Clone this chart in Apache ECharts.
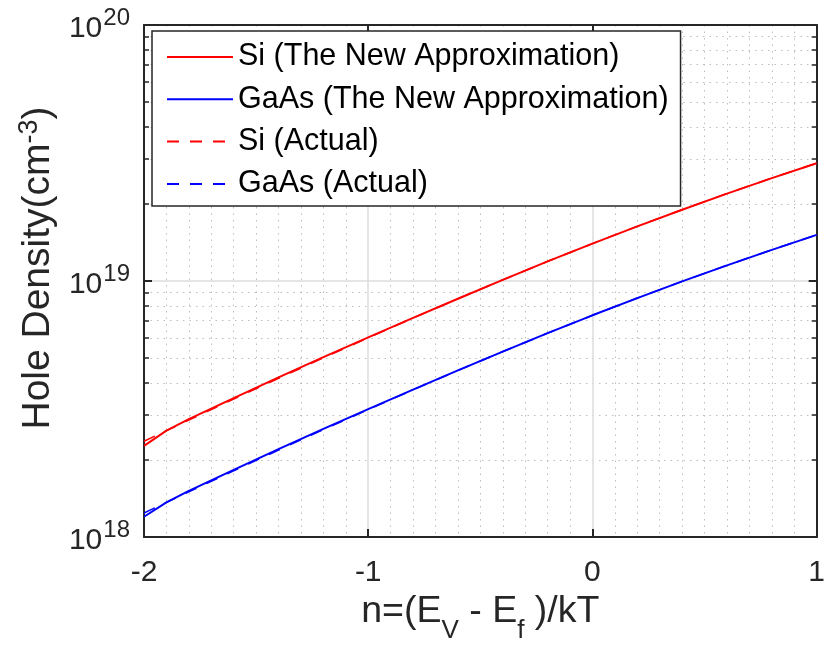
<!DOCTYPE html>
<html>
<head>
<meta charset="utf-8">
<script src="https://cdn.jsdelivr.net/npm/echarts@6/dist/echarts.min.js"></script>
<style>
  html, body { margin: 0; padding: 0; background: #ffffff; }
  #chart { width: 828px; height: 651px; }
</style>
</head>
<body>
<div id="chart"></div>
<script>
// Reduced Fermi level n = (Ev - Ef)/kT
const eta = [-2, -1.9, -1.8, -1.6, -1.4, -1.2, -1.0, -0.8, -0.6, -0.4, -0.2, 0, 0.2, 0.4, 0.6, 0.8, 1.0];

// Hole density (cm^-3), new approximation
const siApprox   = [2.27e18, 2.602e18, 2.885e18, 3.49e18, 4.20e18, 5.04e18, 6.02e18, 7.18e18, 8.527e18, 1.0105e19, 1.1926e19, 1.4001e19, 1.635e19, 1.899e19, 2.195e19, 2.523e19, 2.885e19];
const gaasApprox = [1.20e18, 1.365e18, 1.515e18, 1.83e18, 2.205e18, 2.645e18, 3.16e18, 3.765e18, 4.473e18, 5.301e18, 6.256e18, 7.345e18, 8.577e18, 9.963e18, 1.1513e19, 1.3235e19, 1.5135e19];

// Hole density (cm^-3), actual (Fermi-Dirac integral)
const siActual   = [2.366e18, 2.602e18, 2.863e18, 3.457e18, 4.165e18, 5.006e18, 5.999e18, 7.165e18, 8.527e18, 1.0105e19, 1.1926e19, 1.4001e19, 1.635e19, 1.899e19, 2.195e19, 2.523e19, 2.885e19];
const gaasActual = [1.241e18, 1.365e18, 1.502e18, 1.813e18, 2.185e18, 2.626e18, 3.147e18, 3.759e18, 4.473e18, 5.301e18, 6.256e18, 7.345e18, 8.577e18, 9.963e18, 1.1513e19, 1.3235e19, 1.5135e19];

const seriesNames = ['Si (The New Approximation)', 'GaAs (The New Approximation)', 'Si (Actual)', 'GaAs (Actual)'];

// Axis ranges
const xMin = -2, xMax = 1, xStep = 1;
const yMin = 1e18, yMax = 1e20;
// Mantissas of the logarithmic minor grid in each decade
const minorMantissas = [2, 3, 4, 5, 6, 7, 8, 9];
const decadeExponents = [18, 19];

const FONT = '"Liberation Sans", Arial, Helvetica, sans-serif';
const INK = '#262626';

const pairs = (ys) => eta.map((x, i) => [x, ys[i]]);

// Exponent positions of the minor log grid lines (used on a helper linear axis)
const minorExp = [];
decadeExponents.forEach(d => minorMantissas.forEach(m => minorExp.push(d + Math.log10(m))));

const chart = echarts.init(document.getElementById('chart'), null, { renderer: 'canvas' });

const option = {
  backgroundColor: '#ffffff',
  animation: false,
  textStyle: { fontFamily: FONT },
  grid: { left: 144, right: 5, top: 25, bottom: 114, containLabel: false },
  legend: {
    left: 152, top: 31,
    orient: 'vertical',
    itemWidth: 66, itemHeight: 14, itemGap: 8.3,
    padding: [9, 12, 5, 14],
    backgroundColor: '#ffffff',
    borderColor: INK, borderWidth: 1.5, borderRadius: 0,
    itemStyle: { color: 'rgba(0,0,0,0)', opacity: 0, borderWidth: 0 },
    textStyle: { fontSize: 30.5, color: '#000000', fontFamily: FONT, lineHeight: 34 },
    data: seriesNames
  },
  xAxis: [
    {
      type: 'value', min: xMin, max: xMax, interval: xStep,
      position: 'bottom',
      axisLine: { show: true, onZero: false, lineStyle: { color: INK, width: 2 } },
      axisTick: { show: true, inside: true, length: 8, lineStyle: { color: INK, width: 2 } },
      axisLabel: { fontSize: 30, color: INK, margin: 21, fontFamily: FONT },
      splitLine: { show: true, lineStyle: { color: '#dcdcdc', width: 1.5 } },
      minorTick: { show: false, splitNumber: 10 },
      minorSplitLine: { show: true, lineStyle: { color: '#bdbdbd', width: 1, type: [1.5, 5] } },
      name: 'n=(E{sub|V} - E{sub|f} )/kT',
      nameLocation: 'middle', nameGap: 54,
      nameTextStyle: {
        fontSize: 37.5, color: INK, fontFamily: FONT,
        rich: { sub: { fontSize: 26, verticalAlign: 'bottom', padding: [0, 0, -13, 0], color: INK, fontFamily: FONT } }
      }
    },
    {
      type: 'value', min: xMin, max: xMax, interval: xStep,
      position: 'top',
      axisLine: { show: true, onZero: false, lineStyle: { color: INK, width: 2 } },
      axisTick: { show: true, inside: true, length: 8, lineStyle: { color: INK, width: 2 } },
      axisLabel: { show: false },
      splitLine: { show: false }
    }
  ],
  yAxis: [
    {
      type: 'log', logBase: 10, min: yMin, max: yMax,
      position: 'left',
      axisLine: { show: true, onZero: false, lineStyle: { color: INK, width: 2 } },
      axisTick: { show: true, inside: true, length: 8, lineStyle: { color: INK, width: 2 } },
      axisLabel: {
        margin: 14, color: INK, fontFamily: FONT,
        formatter: (v) => '{b|10}{e|' + Math.round(Math.log10(v)) + '}',
        rich: {
          b: { fontSize: 30, color: INK, fontFamily: FONT, verticalAlign: 'bottom' },
          e: { fontSize: 24, color: INK, fontFamily: FONT, verticalAlign: 'top', padding: [0, 0, 14, 1] }
        }
      },
      splitLine: { show: true, lineStyle: { color: '#dcdcdc', width: 1.5 } },
      name: 'Hole Density(cm{sup|-3})',
      nameLocation: 'middle', nameGap: 84, nameRotate: 90,
      nameTextStyle: {
        fontSize: 39, color: INK, fontFamily: FONT,
        padding: [0, 0, 0, 26],
        rich: { sup: { fontSize: 27, verticalAlign: 'top', padding: [0, 0, 17, 0], color: INK, fontFamily: FONT } }
      }
    },
    {
      type: 'log', logBase: 10, min: yMin, max: yMax,
      position: 'right',
      axisLine: { show: true, onZero: false, lineStyle: { color: INK, width: 2 } },
      axisTick: { show: true, inside: true, length: 8, lineStyle: { color: INK, width: 2 } },
      axisLabel: { show: false },
      splitLine: { show: false }
    },
    {
      // helper exponent axis carrying the minor log grid and ticks (left)
      type: 'value', min: 18, max: 20,
      position: 'left',
      axisLine: { show: false, onZero: false },
      axisTick: { show: true, inside: true, length: 5, customValues: minorExp, lineStyle: { color: INK, width: 1.5 } },
      axisLabel: { show: false },
      splitLine: { show: true, lineStyle: { color: '#bdbdbd', width: 1, type: [1.5, 5] } }
    },
    {
      // helper exponent axis carrying the minor ticks (right)
      type: 'value', min: 18, max: 20,
      position: 'right',
      axisLine: { show: false, onZero: false },
      axisTick: { show: true, inside: true, length: 5, customValues: minorExp, lineStyle: { color: INK, width: 1.5 } },
      axisLabel: { show: false },
      splitLine: { show: false }
    }
  ],
  series: [
    {
      name: seriesNames[0], type: 'line', xAxisIndex: 0, yAxisIndex: 0,
      data: pairs(siApprox), symbol: 'none', smooth: false,
      lineStyle: { color: '#ff0000', width: 2, type: 'solid' }, itemStyle: { color: '#ff0000' }, z: 3
    },
    {
      name: seriesNames[1], type: 'line', xAxisIndex: 0, yAxisIndex: 0,
      data: pairs(gaasApprox), symbol: 'none', smooth: false,
      lineStyle: { color: '#0000ff', width: 2, type: 'solid' }, itemStyle: { color: '#0000ff' }, z: 3
    },
    {
      name: seriesNames[2], type: 'line', xAxisIndex: 0, yAxisIndex: 0,
      data: pairs(siActual), symbol: 'none', smooth: false,
      lineStyle: { color: '#ff0000', width: 1.5, type: [12, 11] }, itemStyle: { color: '#ff0000' }, z: 4
    },
    {
      name: seriesNames[3], type: 'line', xAxisIndex: 0, yAxisIndex: 0,
      data: pairs(gaasActual), symbol: 'none', smooth: false,
      lineStyle: { color: '#0000ff', width: 1.5, type: [12, 11] }, itemStyle: { color: '#0000ff' }, z: 4
    }
  ]
};

chart.setOption(option);
</script>
</body>
</html>
